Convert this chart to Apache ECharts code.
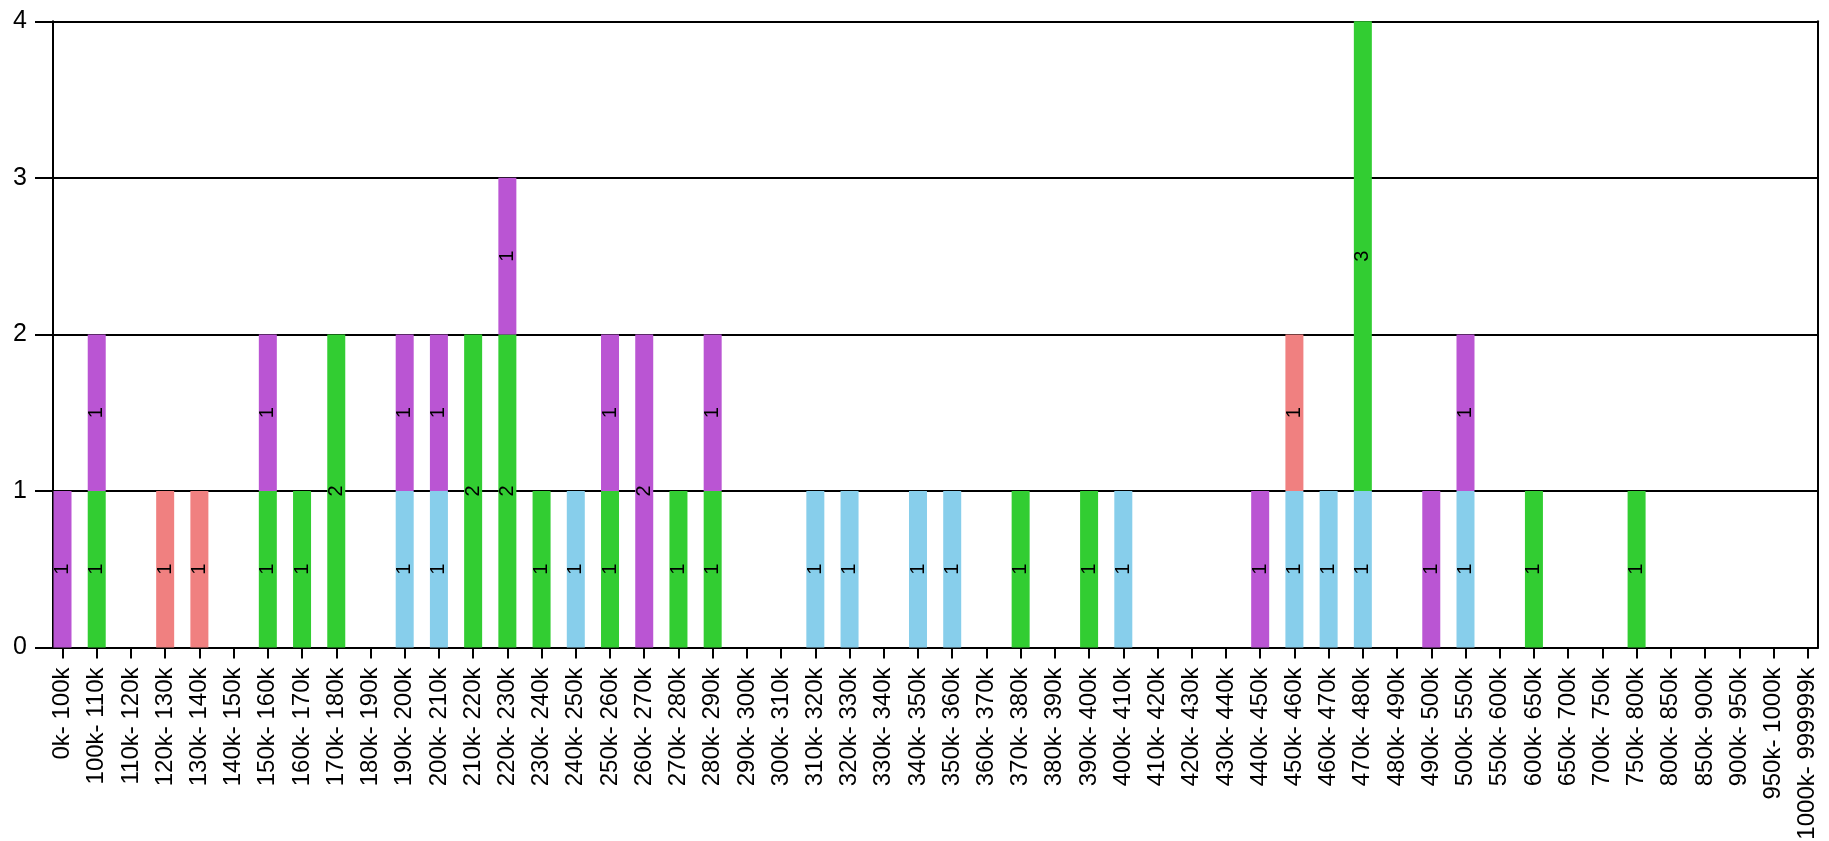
<!DOCTYPE html>
<html>
<head>
<meta charset="utf-8">
<script src="https://cdn.jsdelivr.net/npm/echarts@6/dist/echarts.min.js"></script>
<style>html,body{margin:0;padding:0;background:#fff;}#c{width:1829px;height:841px;}</style>
</head>
<body>
<div id="c"></div>
<script>
const categories = ['0k- 100k','100k- 110k','110k- 120k','120k- 130k','130k- 140k','140k- 150k','150k- 160k','160k- 170k','170k- 180k','180k- 190k','190k- 200k','200k- 210k','210k- 220k','220k- 230k','230k- 240k','240k- 250k','250k- 260k','260k- 270k','270k- 280k','280k- 290k','290k- 300k','300k- 310k','310k- 320k','320k- 330k','330k- 340k','340k- 350k','350k- 360k','360k- 370k','370k- 380k','380k- 390k','390k- 400k','400k- 410k','410k- 420k','420k- 430k','430k- 440k','440k- 450k','450k- 460k','460k- 470k','470k- 480k','480k- 490k','490k- 500k','500k- 550k','550k- 600k','600k- 650k','650k- 700k','700k- 750k','750k- 800k','800k- 850k','850k- 900k','900k- 950k','950k- 1000k','1000k- 999999k'];
const blueValues   = [0,0,0,0,0,0,0,0,0,0,1,1,0,0,0,1,0,0,0,0,0,0,1,1,0,1,1,0,0,0,0,1,0,0,0,0,1,1,1,0,0,1,0,0,0,0,0,0,0,0,0,0];
const greenValues  = [0,1,0,0,0,0,1,1,2,0,0,0,2,2,1,0,1,0,1,1,0,0,0,0,0,0,0,0,1,0,1,0,0,0,0,0,0,0,3,0,0,0,0,1,0,0,1,0,0,0,0,0];
const coralValues  = [0,0,0,1,1,0,0,0,0,0,0,0,0,0,0,0,0,0,0,0,0,0,0,0,0,0,0,0,0,0,0,0,0,0,0,0,1,0,0,0,0,0,0,0,0,0,0,0,0,0,0,0];
const purpleValues = [1,1,0,0,0,0,1,0,0,0,1,1,0,1,0,0,1,2,0,1,0,0,0,0,0,0,0,0,0,0,0,0,0,0,0,1,0,0,0,0,1,1,0,0,0,0,0,0,0,0,0,0];
const yTicks = [0,1,2,3,4];

const FONT = "'Liberation Sans', Arial, sans-serif";
const TOP = 21.3, BOTTOM = 193.5;
function mk(name, data, color) {
  return {
    name, type: 'bar', stack: 'total', data, xAxisIndex: 0, yAxisIndex: 0,
    barWidth: 18,
    itemStyle: { color },
    label: {
      show: true, position: 'inside', rotate: 90, fontSize: 20, color: '#000', fontFamily: FONT,
      formatter: p => p.value ? String(p.value) : ''
    }
  };
}
const chart = echarts.init(document.getElementById('c'));
chart.setOption({
  animation: false,
  backgroundColor: '#fff',
  grid: [
    { left: 45.4, right: 4.2, top: TOP, bottom: BOTTOM, containLabel: false, outerBoundsMode: 'none' },
    { left: 53, right: 11, top: TOP, bottom: BOTTOM, containLabel: false, outerBoundsMode: 'none' }
  ],
  xAxis: [
    {
      type: 'category', gridIndex: 0, data: categories, boundaryGap: true,
      axisLine: { show: false },
      axisTick: { show: true, alignWithLabel: true, length: 11, lineStyle: { color: '#000', width: 2 } },
      axisLabel: { interval: 0, rotate: 90, fontSize: 24, color: '#000', margin: 20, fontFamily: FONT }
    },
    {
      type: 'value', gridIndex: 1, min: 0, max: 1,
      axisLine: { show: true, onZero: false, lineStyle: { color: '#000', width: 2 } },
      axisTick: { show: false }, axisLabel: { show: false }, splitLine: { show: false }
    }
  ],
  yAxis: [
    { type: 'value', gridIndex: 0, min: 0, max: 4, show: false, splitLine: { show: false } },
    {
      type: 'value', gridIndex: 1, min: 0, max: 4, interval: 1, position: 'left',
      axisLine: { show: true, lineStyle: { color: '#000', width: 2 } },
      axisTick: { show: true, length: 18, lineStyle: { color: '#000', width: 2 } },
      axisLabel: { fontSize: 25, color: '#000', margin: 26, fontFamily: FONT,
        formatter: v => yTicks.includes(v) ? String(v) : '' },
      splitLine: { show: true, lineStyle: { color: '#000', width: 2 } }
    },
    {
      type: 'value', gridIndex: 1, min: 0, max: 4, position: 'right',
      axisLine: { show: true, lineStyle: { color: '#000', width: 2 } },
      axisTick: { show: false }, axisLabel: { show: false }, splitLine: { show: false }
    }
  ],
  series: [
    mk('blue', blueValues, '#87CEEB'),
    mk('green', greenValues, '#32CD32'),
    mk('coral', coralValues, '#F08080'),
    mk('purple', purpleValues, '#BA55D3')
  ]
});
</script>
</body>
</html>
